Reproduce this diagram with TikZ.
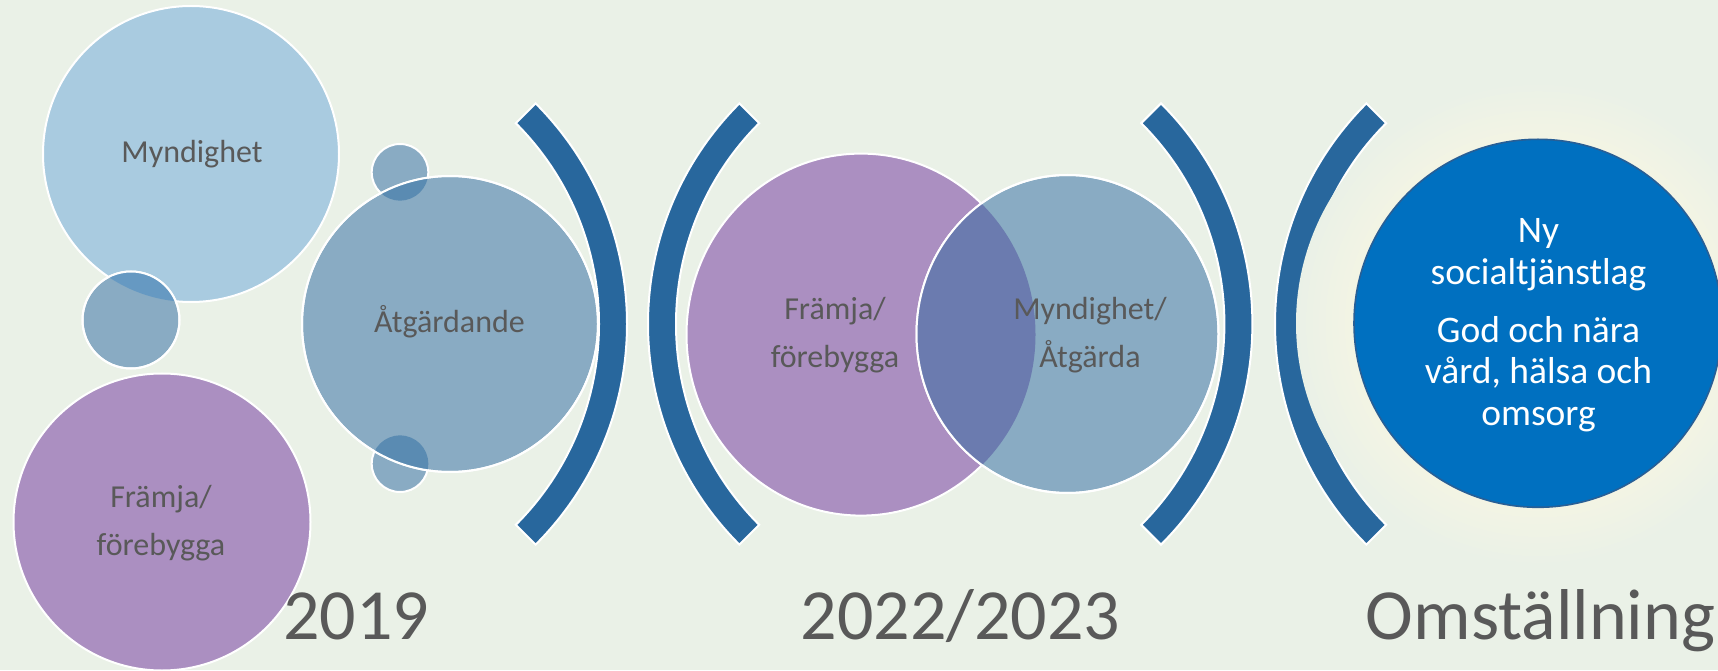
\documentclass[tikz,border=0pt]{standalone}
\usepackage{fontspec}
\setmainfont{Carlito}
\usetikzlibrary{positioning}

\definecolor{bgcol}{RGB}{234,241,231}
\definecolor{halocol}{RGB}{243,244,228}
\definecolor{lightblu}{RGB}{169,203,224}
\definecolor{greyblu}{RGB}{137,171,195}
\definecolor{purp}{RGB}{171,143,193}
\definecolor{darkleft}{RGB}{102,153,194}
\definecolor{darkright}{RGB}{90,139,178}
\definecolor{vennmix}{RGB}{107,123,175}
\definecolor{brackcol}{RGB}{40,103,157}
\definecolor{bigblu}{RGB}{0,112,192}
\definecolor{bigedge}{RGB}{40,95,150}
\definecolor{txtgray}{RGB}{89,89,89}

\pgfdeclareradialshading{halo}{\pgfpoint{0bp}{0bp}}{color(0bp)=(halocol); color(19bp)=(halocol); color(25bp)=(bgcol); color(50bp)=(bgcol)}

\tikzset{
  ring/.style={draw=white, line width=1pt},
  bracket/.style={fill=brackcol, draw=white, line width=1pt},
  circtext/.style={text=txtgray, font=\fontsize{16}{24}\selectfont, align=center, anchor=base, inner sep=0pt},
  bigtext/.style={text=white, font=\fontsize{18.75}{20.75}\selectfont, align=center, anchor=base, inner sep=0pt},
  yeartext/.style={text=txtgray, font=\fontsize{36}{40}\selectfont, anchor=base, inner sep=0pt}
}

\begin{document}
\begin{tikzpicture}[x=0.5pt,y=0.5pt]
        \fill[bgcol] (0,0) rectangle (1718,670);
        \useasboundingbox (0,0) rectangle (1718,670);

        % 2019
        \filldraw[fill=lightblu, ring] (191,516) coordinate (myn) circle (148);
        \filldraw[fill=greyblu, ring] (131,350) coordinate (s1) circle (48.5);
        \begin{scope}
            \clip (s1) circle (48.5);
            \fill[darkleft] (myn) circle (148);
        \end{scope}
        \draw[ring] (s1) circle (48.5);

        \filldraw[fill=greyblu, ring] (400,497.7) coordinate (s2) circle (28.3);
        \filldraw[fill=greyblu, ring] (400,206.3) coordinate (s3) circle (28.3);
        \filldraw[fill=greyblu, ring] (450,346) coordinate (atg) circle (148);
        \begin{scope}
            \clip (atg) circle (148);
            \fill[darkright] (s2) circle (28.3) (s3) circle (28.3);
        \end{scope}
        \draw[ring] (atg) circle (148);

        \filldraw[fill=purp, ring] (162,148) coordinate (fr) circle (148.5);

        \node[circtext] (myntext) at (192,507.6) {Myndighet};
        \node[circtext] (atgtext) at (449.5,337.5) {Åtgärdande};
        \node[circtext] (frtext) at (161,114.4) {Främja/\\förebygga};

        % brackets
        \coordinate (b1) at (315,346);
        \coordinate (b2) at (960,346);
        \coordinate (b3) at (940.4,346);
        \coordinate (b4) at (1587,346);
        \foreach \b/\a in {b1/0,b2/180,b3/0,b4/180}
            \filldraw[bracket] ([shift={({\a-45}:312)}]\b) arc[start angle={\a-45}, delta angle=90, radius=312]
                -- ([shift={({\a+45}:284)}]\b) arc[start angle={\a+45}, delta angle=-90, radius=284] -- cycle;

        % 2022/2023
        \filldraw[fill=purp, ring] (861,335.4) coordinate (vp) ellipse [x radius=174.5, y radius=181];
        \filldraw[fill=greyblu, ring] (1067.5,336) coordinate (vb) ellipse [x radius=151, y radius=159];
        \begin{scope}
            \clip (vp) ellipse [x radius=174.5, y radius=181];
            \fill[vennmix] (vb) ellipse [x radius=151, y radius=159];
        \end{scope}
        \draw[ring] (vb) ellipse [x radius=151, y radius=159];

        \node[circtext] (vptext) at (835,302.3) {Främja/\\förebygga};
        \node[circtext] (vbtext) at (1090,302.3) {Myndighet/\\Åtgärda};

        % omställning
        \shade[shading=halo] (1538,346.7) coordinate (big) circle (242);
        \filldraw[fill=bigblu, draw=bigedge, line width=0.8pt] (big) circle (184);
        \node[bigtext] (lag) at (1538.5,385.7) {Ny\\socialtjänstlag};
        \node[bigtext] (vard) at (1538.5,245) {God och nära\\vård, hälsa och\\omsorg};

        \node[yeartext] (y2019) at (356,30.7) {2019};
        \node[yeartext] (y2022) at (960.5,30.7) {2022/2023};
        \node[yeartext] (yomst) at (1540.5,30.7) {Omställning};
    \end{tikzpicture}
\end{document}
